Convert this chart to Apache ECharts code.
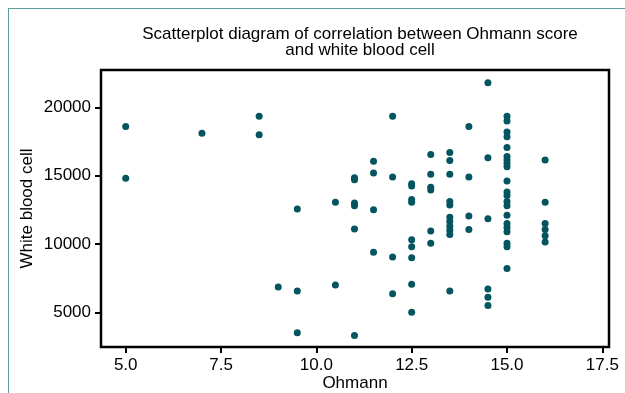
<!DOCTYPE html>
<html>
<head>
<meta charset="utf-8">
<script src="https://cdn.jsdelivr.net/npm/echarts@6/dist/echarts.min.js"></script>
<style>
  html, body { margin: 0; padding: 0; background: #fff; }
  #frame { position: absolute; left: 8px; top: 8px; width: 617px; height: 385px;
           border-left: 1.5px solid #5f9c9c; border-top: 1.5px solid #5f9c9c; box-sizing: border-box; }
  #chart { position: absolute; left: 0; top: 0; width: 625px; height: 393px; }
</style>
</head>
<body>
<div id="frame"></div>
<div id="chart"></div>
<script>
// Ohmann score (x) and white blood cell count (y), one entry per patient
const ohmannScores = [
  5, 5,
  7,
  8.5, 8.5,
  9,
  9.5, 9.5, 9.5,
  10.5, 10.5,
  11, 11, 11, 11, 11, 11,
  11.5, 11.5, 11.5, 11.5,
  12, 12, 12, 12,
  12.5, 12.5, 12.5, 12.5, 12.5, 12.5, 12.5, 12.5, 12.5,
  13, 13, 13, 13, 13, 13,
  13.5, 13.5, 13.5, 13.5, 13.5, 13.5, 13.5, 13.5, 13.5, 13.5, 13.5,
  14, 14, 14, 14,
  14.5, 14.5, 14.5, 14.5, 14.5, 14.5,
  15, 15, 15, 15, 15, 15, 15, 15, 15, 15, 15, 15, 15, 15, 15, 15, 15, 15, 15, 15, 15,
  16, 16, 16, 16, 16, 16
];
const wbcCounts = [
  18600, 14800,
  18100,
  19350, 18000,
  6850,
  12550, 6550, 3500,
  13050, 7000,
  14850, 14700, 13000, 12800, 11100, 3300,
  16050, 15200, 12500, 9400,
  19350, 14900, 9050, 6350,
  14400, 14250, 13250, 13050, 10300, 9800, 9000, 7050, 5000,
  16550, 15100, 14150, 13950, 10950, 10050,
  16700, 16100, 15100, 13100, 12850, 11950, 11650, 11300, 11000, 10700, 6550,
  18600, 14900, 12050, 11050,
  21800, 16300, 11850, 6700, 6100, 5500,
  19350, 19000, 18200, 17850, 17050, 16400, 16150, 15900, 15650, 14600, 13800, 13550, 13100, 12800, 12100, 11500, 11200, 10900, 10050, 9800, 8200,
  16150, 13050, 11500, 11050, 10600, 10150
];
const xTickValues = [5, 7.5, 10, 12.5, 15, 17.5];
const yTickValues = [5000, 10000, 15000, 20000];
const titleLine1 = 'Scatterplot diagram of correlation between Ohmann score';
const titleLine2 = 'and white blood cell';
const xAxisName = 'Ohmann';
const yAxisName = 'White blood cell';

const points = ohmannScores.map((x, i) => [x, wbcCounts[i]]);
const FONT = 'Liberation Sans, Arial, sans-serif';
const FS = 17;

const chart = echarts.init(document.getElementById('chart'), null, { renderer: 'canvas' });
chart.setOption({
  animation: false,
  backgroundColor: 'transparent',
  title: [
    { text: titleLine1, left: 355, top: 21, textAlign: 'center',
      textStyle: { fontFamily: FONT, fontSize: FS, fontWeight: 'normal', color: '#000' } },
    { text: titleLine2, left: 355, top: 37, textAlign: 'center',
      textStyle: { fontFamily: FONT, fontSize: FS, fontWeight: 'normal', color: '#000' } }
  ],
  grid: { left: 101, top: 70, right: 16, bottom: 46, containLabel: false, outerBoundsMode: 'none',
          show: true, borderColor: '#000', borderWidth: 2.5, backgroundColor: 'transparent' },
  xAxis: {
    type: 'value', min: 4.352, max: 17.675,
    name: xAxisName, nameLocation: 'middle', nameGap: 28, nameMoveOverlap: false,
    nameTextStyle: { fontFamily: FONT, fontSize: FS, color: '#000' },
    axisLine: { show: false },
    axisTick: { show: true, length: 6, lineStyle: { color: '#000', width: 2 }, customValues: xTickValues },
    axisLabel: { fontFamily: FONT, fontSize: FS, color: '#000', margin: 10, customValues: xTickValues,
                 formatter: v => Number(v).toFixed(1) },
    splitLine: { show: false }
  },
  yAxis: {
    type: 'value', min: 2461, max: 22730,
    name: yAxisName, nameLocation: 'middle', nameGap: 65, nameRotate: 90, nameMoveOverlap: false,
    nameTextStyle: { fontFamily: FONT, fontSize: FS, color: '#000' },
    axisLine: { show: false },
    axisTick: { show: true, length: 6, lineStyle: { color: '#000', width: 2 }, customValues: yTickValues },
    axisLabel: { fontFamily: FONT, fontSize: FS, color: '#000', margin: 10, customValues: yTickValues,
                 formatter: v => String(v) },
    splitLine: { show: false }
  },
  series: [{
    type: 'scatter',
    data: points,
    symbol: 'circle',
    symbolSize: 7,
    itemStyle: { color: '#04555f', opacity: 1 }
  }]
});
</script>
</body>
</html>
